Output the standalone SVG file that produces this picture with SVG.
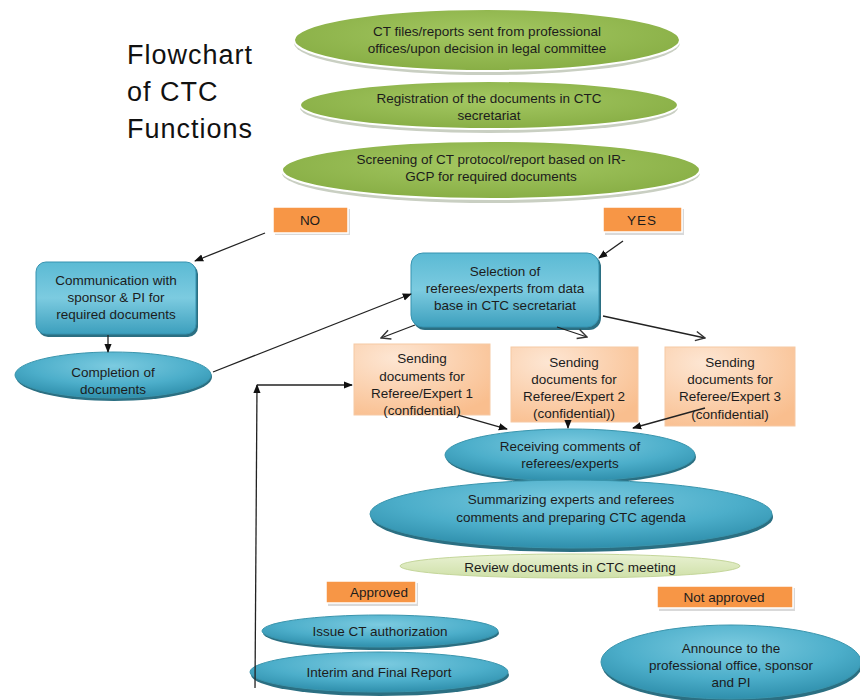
<svg xmlns="http://www.w3.org/2000/svg" width="860" height="700" viewBox="0 0 860 700">
<defs>
<radialGradient id="gGreen" cx="50%" cy="40%" r="60%">
<stop offset="0" stop-color="#A4C862"/><stop offset="1" stop-color="#88AE45"/>
</radialGradient>
<radialGradient id="gBlue" cx="50%" cy="30%" r="70%">
<stop offset="0" stop-color="#7CCBE0"/><stop offset="0.6" stop-color="#4CAECA"/><stop offset="1" stop-color="#2F8FAC"/>
</radialGradient>
<linearGradient id="gBlueRect" x1="0" y1="0" x2="0" y2="1">
<stop offset="0" stop-color="#5BBAD4"/><stop offset="0.5" stop-color="#7CCBE0"/><stop offset="1" stop-color="#3C9FBD"/>
</linearGradient>
<linearGradient id="gPale" x1="0" y1="0" x2="0" y2="1">
<stop offset="0" stop-color="#E8F1D2"/><stop offset="1" stop-color="#CFE0A8"/>
</linearGradient>
<radialGradient id="gPeach" cx="30%" cy="20%" r="90%">
<stop offset="0" stop-color="#FDE6D3"/><stop offset="1" stop-color="#F9BE8E"/>
</radialGradient>
<marker id="ah" viewBox="0 0 10 10" refX="9" refY="5" markerWidth="7" markerHeight="7" orient="auto-start-reverse">
<path d="M0,1 L10,5 L0,9 Z" fill="#111"/>
</marker>
<marker id="av" viewBox="0 0 10 10" refX="9" refY="5" markerWidth="9" markerHeight="9" orient="auto">
<path d="M1,1 L9,5 L1,9" fill="none" stroke="#333" stroke-width="1.2"/>
</marker>
</defs>
<style>
text{font-family:"Liberation Sans",Arial,sans-serif;fill:#1c1c1c;text-anchor:middle;font-size:13.5px}
.title{font-size:27px;text-anchor:start;fill:#111;letter-spacing:1px}
.green{fill:url(#gGreen);stroke:#fff;stroke-width:2}
.gshadow{fill:#c9cfc2}
.blue{fill:url(#gBlue);stroke:#3a95ad;stroke-width:1}
.bshadow{fill:#2b6f82}
.brect{fill:url(#gBlueRect);stroke:#3793b0;stroke-width:1}
.orange{fill:#F79646;stroke:#fff;stroke-width:1.5}
.oshadow{fill:#d9d9d9}
.peach{fill:url(#gPeach);stroke:#f6c9a4;stroke-width:1}
.pale{fill:url(#gPale);stroke:#c4d69a;stroke-width:1}
.conn line,.conn path{stroke:#222;stroke-width:1.3;fill:none}
</style>
<rect width="860" height="700" fill="#fff"/>

<g id="title">
<text class="title" x="127" y="64">Flowchart</text>
<text class="title" x="127" y="101">of CTC</text>
<text class="title" x="127" y="138">Functions</text>
</g>

<g id="n_ctfiles">
<ellipse class="gshadow" cx="487" cy="43" rx="193" ry="32"/>
<ellipse class="green" cx="487" cy="40" rx="193" ry="31"/>
<text x="487" y="36">CT files/reports sent from professional</text>
<text x="487" y="53">offices/upon decision in legal committee</text>
</g>

<g id="n_registration">
<ellipse class="gshadow" cx="489" cy="108" rx="189" ry="25"/>
<ellipse class="green" cx="489" cy="105" rx="189" ry="24"/>
<text x="489" y="103">Registration of the documents in CTC</text>
<text x="489" y="120">secretariat</text>
</g>

<g id="n_screening">
<ellipse class="gshadow" cx="491" cy="173" rx="209" ry="30"/>
<ellipse class="green" cx="491" cy="170" rx="209" ry="29"/>
<text x="491" y="164">Screening of CT protocol/report based on IR-</text>
<text x="491" y="181">GCP for required documents</text>
</g>

<g id="n_no">
<rect class="oshadow" x="275" y="209" width="75" height="26"/>
<rect class="orange" x="273" y="207" width="75" height="26"/>
<text x="310" y="225">NO</text>
</g>

<g id="n_yes">
<rect class="oshadow" x="605" y="209" width="79" height="26"/>
<rect class="orange" x="603" y="207" width="79" height="25"/>
<text x="642" y="225" style="letter-spacing:1px">YES</text>
</g>

<g id="n_communication">
<rect class="bshadow" x="38" y="264" width="160" height="73" rx="10"/>
<rect class="brect" x="36" y="262" width="160" height="72" rx="10"/>
<text x="116" y="285">Communication with</text>
<text x="116" y="302">sponsor &amp; PI for</text>
<text x="116" y="319">required documents</text>
</g>

<g id="n_completion">
<ellipse class="bshadow" cx="114" cy="377" rx="98" ry="24"/>
<ellipse class="blue" cx="113" cy="375" rx="98" ry="23"/>
<text x="113" y="377">Completion of</text>
<text x="113" y="394">documents</text>
</g>

<g id="n_selection">
<rect class="bshadow" x="413" y="255" width="188" height="75" rx="12"/>
<rect class="brect" x="411" y="253" width="188" height="74" rx="12"/>
<text x="505" y="276">Selection of</text>
<text x="505" y="293">referees/experts from data</text>
<text x="505" y="310">base in CTC secretariat</text>
</g>

<g id="n_send1">
<rect class="peach" x="354" y="344" width="136" height="71"/>
<text x="422" y="363">Sending</text>
<text x="422" y="381">documents for</text>
<text x="422" y="398">Referee/Expert 1</text>
<text x="422" y="415">(confidential)</text>
</g>

<g id="n_send2">
<rect class="peach" x="511" y="347" width="127" height="75"/>
<text x="574" y="367">Sending</text>
<text x="574" y="384">documents for</text>
<text x="574" y="401">Referee/Expert 2</text>
<text x="574" y="418">(confidential))</text>
</g>

<g id="n_send3">
<rect class="peach" x="665" y="347" width="130" height="79"/>
<text x="730" y="367">Sending</text>
<text x="730" y="384">documents for</text>
<text x="730" y="401">Referee/Expert 3</text>
<text x="730" y="419">(confidential)</text>
</g>

<g id="n_receiving">
<ellipse class="bshadow" cx="571" cy="457" rx="125" ry="27"/>
<ellipse class="blue" cx="570" cy="455" rx="125" ry="26"/>
<text x="570" y="451">Receiving comments of</text>
<text x="570" y="468">referees/experts</text>
</g>

<g id="n_summarizing">
<ellipse class="bshadow" cx="572" cy="517" rx="201" ry="35"/>
<ellipse class="blue" cx="571" cy="514" rx="201" ry="34"/>
<text x="571" y="504">Summarizing experts and referees</text>
<text x="571" y="522">comments and preparing CTC agenda</text>
</g>

<g id="n_review">
<ellipse class="pale" cx="570" cy="566" rx="170" ry="12"/>
<text x="570" y="572">Review documents in CTC meeting</text>
</g>

<g id="n_approved">
<rect class="oshadow" x="328" y="583" width="90" height="23"/>
<rect class="orange" x="326" y="581" width="90" height="22"/>
<text x="379" y="597">Approved</text>
</g>

<g id="n_notapproved">
<rect class="oshadow" x="659" y="588" width="136" height="23"/>
<rect class="orange" x="657" y="586" width="136" height="22"/>
<text x="724" y="602">Not approved</text>
</g>

<g id="n_issue">
<ellipse class="bshadow" cx="381" cy="633" rx="118" ry="17"/>
<ellipse class="blue" cx="380" cy="631" rx="118" ry="16"/>
<text x="380" y="636">Issue CT authorization</text>
</g>

<g id="n_interim">
<ellipse class="bshadow" cx="380" cy="675" rx="129" ry="21"/>
<ellipse class="blue" cx="379" cy="672" rx="129" ry="20"/>
<text x="379" y="677">Interim and Final Report</text>
</g>

<g id="n_announce">
<ellipse class="bshadow" cx="732" cy="665" rx="130" ry="38"/>
<ellipse class="blue" cx="731" cy="662" rx="130" ry="37"/>
<text x="731" y="653">Announce to the</text>
<text x="731" y="670">professional office, sponsor</text>
<text x="731" y="687">and PI</text>
</g>

<g id="connectors" class="conn">
<line x1="265" y1="233" x2="195" y2="261" marker-end="url(#ah)"/>
<line x1="623" y1="241" x2="599" y2="258" marker-end="url(#ah)"/>
<line x1="108" y1="335" x2="108" y2="352" marker-end="url(#ah)"/>
<line x1="213" y1="372" x2="411" y2="294" marker-end="url(#ah)"/>
<line x1="415" y1="325" x2="381" y2="338" marker-end="url(#av)"/>
<line x1="557" y1="327" x2="587" y2="337" marker-end="url(#av)"/>
<line x1="603" y1="316" x2="705" y2="338" marker-end="url(#av)"/>
<line x1="458" y1="415" x2="507" y2="429" marker-end="url(#ah)"/>
<line x1="568" y1="420" x2="568" y2="428" marker-end="url(#ah)"/>
<line x1="705" y1="408" x2="633" y2="428" marker-end="url(#ah)"/>
<line x1="255" y1="688" x2="257" y2="385" marker-end="url(#ah)"/>
<line x1="257" y1="385" x2="352" y2="385" marker-end="url(#ah)"/>
</g>
</svg>
